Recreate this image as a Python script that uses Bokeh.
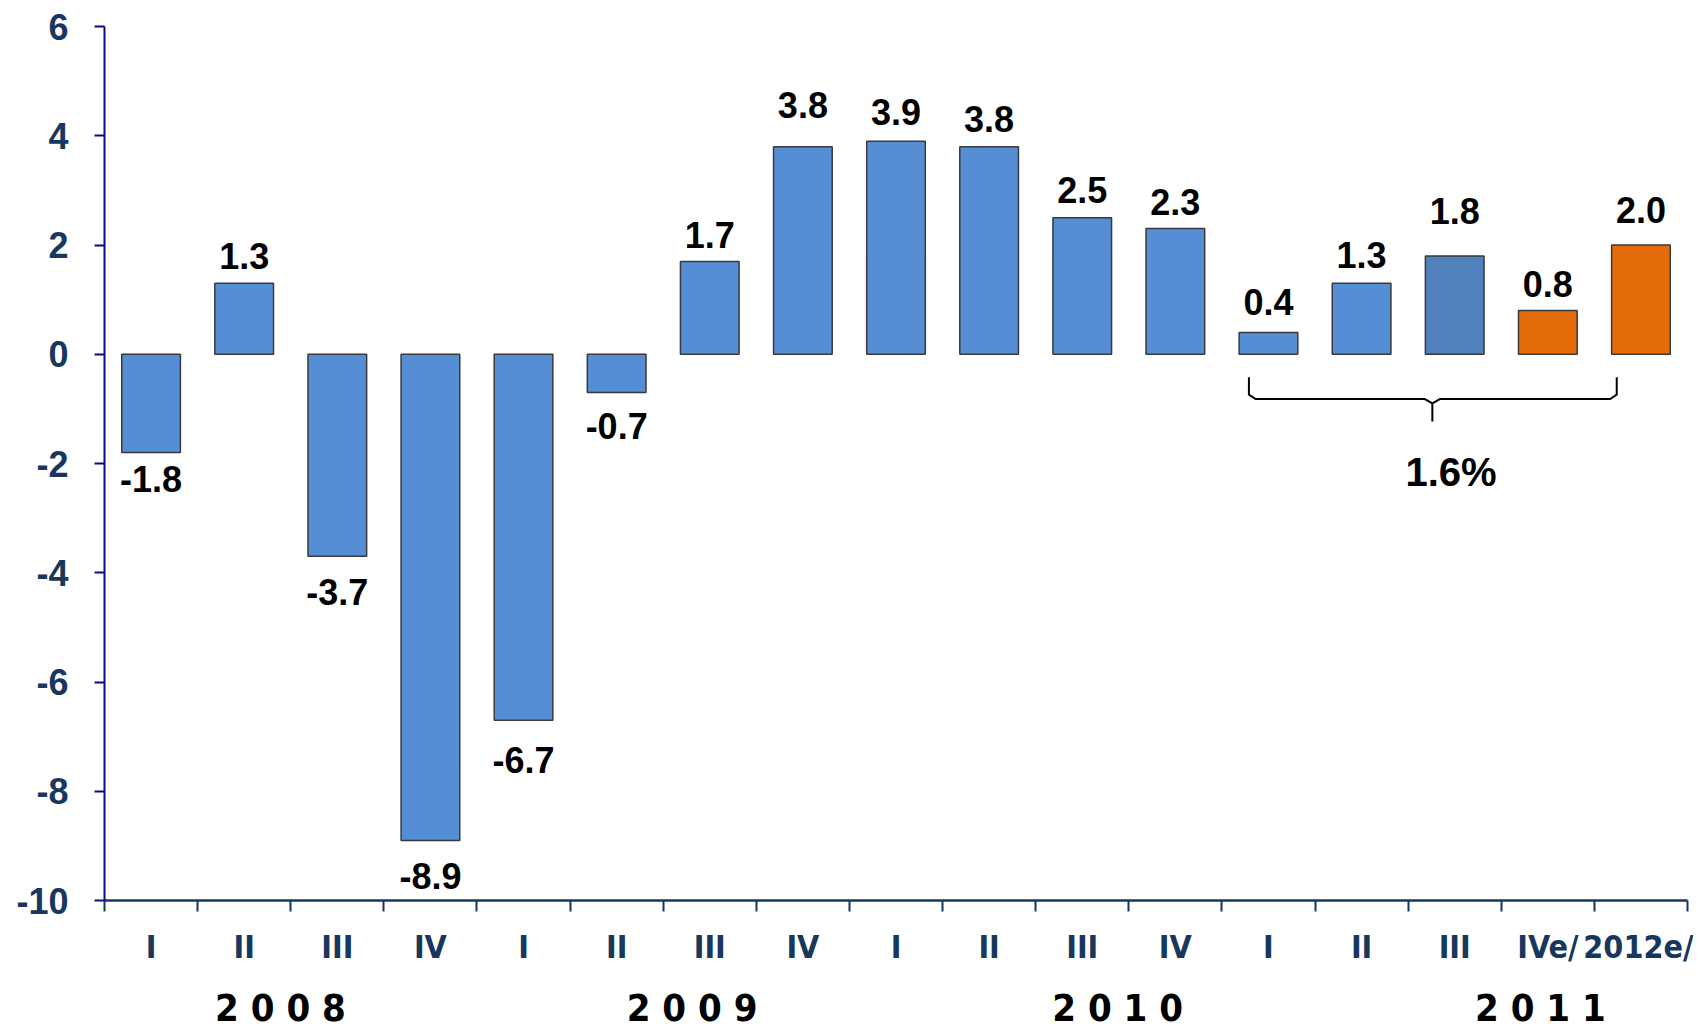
from bokeh.plotting import figure
from bokeh.models import Range1d, FixedTicker, ColumnDataSource, LinearAxis
from bokeh.core.properties import value
from bokeh.embed import file_html
from bokeh.resources import INLINE

# ---- data ----
quarters = ["I", "II", "III", "IV", "I", "II", "III", "IV", "I", "II", "III", "IV",
            "I", "II", "III", "IVe/", "2012e/"]
growth = [-1.8, 1.3, -3.7, -8.9, -6.7, -0.7, 1.7, 3.8, 3.9, 3.8, 2.5, 2.3,
          0.4, 1.3, 1.8, 0.8, 2.0]
bar_group = ["obs"] * 14 + ["obs_last", "est", "est"]
years = ["2 0 0 8", "2 0 0 9", "2 0 1 0", "2 0 1 1"]
y_ticks = [-10, -8, -6, -4, -2, 0, 2, 4, 6]
y_tick_labels = ["-10", "-8", "-6", "-4", "-2", "0", "2", "4", "6"]
bracket_text = "1.6%"

# ---- styles / layout ----
colors = {"obs": "#558ED5", "obs_last": "#4F81BD", "est": "#E46C0A"}
NAVY = "#17375E"
NARROW = "DejaVu Sans Condensed, Liberation Sans"
SANS = "Liberation Sans"
label_gap = [13, 14, 23, 23, 27, 21, 13, 29, 16, 15, 15, 14, 17, 15, 32, 14, 22]
year_x = [1.89, 6.31, 10.88, 15.42]

n = len(growth)
xc = [i + 0.5 for i in range(n)]
labels_txt = [f"{v:.1f}" for v in growth]
src = ColumnDataSource(dict(
    x=xc, top=growth, color=[colors[g] for g in bar_group],
    lab=labels_txt,
    yoff=[-g if v >= 0 else g for v, g in zip(growth, label_gap)],
    base=["bottom" if v >= 0 else "top" for v in growth],
))

p = figure(width=1693, height=1032, output_backend="svg", toolbar_location=None,
           x_range=Range1d(0, n), y_range=Range1d(-10, 6),
           min_border_left=104, min_border_right=6, min_border_top=26,
           min_border_bottom=132, x_axis_type=None, y_axis_type=None)
p.outline_line_color = None
p.grid.visible = False
p.background_fill_color = "white"

p.vbar(x="x", top="top", bottom=0, width=0.63, fill_color="color",
       line_color="#3A3A3A", line_width=1.5, source=src)

p.text(x="x", y="top", text="lab", y_offset="yoff", text_baseline="base",
       text_align="center", text_font=value(SANS), text_font_style="bold",
       text_font_size="36px", text_color="black", source=src)

# y axis
yax = LinearAxis(ticker=FixedTicker(ticks=y_ticks))
yax.major_label_overrides = {t: s for t, s in zip(y_ticks, y_tick_labels)}
yax.axis_line_color = "#0A0A8A"
yax.axis_line_width = 2
yax.major_tick_line_color = "#0A0A8A"
yax.major_tick_line_width = 2
yax.major_tick_out = 10
yax.major_tick_in = 0
yax.minor_tick_line_color = None
yax.major_label_text_font = SANS
yax.major_label_text_font_style = "bold"
yax.major_label_text_font_size = "36px"
yax.major_label_text_color = NAVY
yax.major_label_standoff = 26
p.add_layout(yax, "left")

# x axis: ticks on boundaries, quarter labels at centres
xax = LinearAxis(ticker=FixedTicker(ticks=xc, minor_ticks=list(range(n + 1))))
xax.major_label_overrides = {c: q for c, q in zip(xc, quarters)}
xax.axis_line_color = NAVY
xax.axis_line_width = 2.5
xax.major_tick_line_color = None
xax.minor_tick_line_color = NAVY
xax.minor_tick_line_width = 2
xax.minor_tick_out = 11
xax.minor_tick_in = 0
xax.major_label_text_font = NARROW
xax.major_label_text_font_style = "bold"
xax.major_label_text_font_size = "32px"
xax.major_label_text_color = NAVY
xax.major_label_standoff = 16
p.add_layout(xax, "below")

# second x axis carrying the year labels
yrax = LinearAxis(ticker=FixedTicker(ticks=year_x, minor_ticks=[]))
yrax.major_label_overrides = {x: t for x, t in zip(year_x, years)}
yrax.axis_line_color = None
yrax.major_tick_line_color = None
yrax.minor_tick_line_color = None
yrax.major_label_text_font = NARROW
yrax.major_label_text_font_style = "bold"
yrax.major_label_text_font_size = "38px"
yrax.major_label_text_color = "black"
yrax.major_label_standoff = 11
p.add_layout(yrax, "below")

# bracket under the last five bars
bx = [12.29, 12.29, 12.36, 14.18, 14.26, 14.26, 14.26, 14.34, 16.17, 16.24, 16.24]
by = [-0.42, -0.74, -0.82, -0.82, -0.90, -1.23, -0.90, -0.82, -0.82, -0.74, -0.42]
p.line(bx, by, line_color="black", line_width=2)
p.text(x=[14.46], y=[-2.16], text=[bracket_text], text_align="center",
       text_baseline="middle", text_font=value(SANS), text_font_style="bold",
       text_font_size="40px", text_color="black")

open("out.html", "w").write(file_html(p, INLINE))
